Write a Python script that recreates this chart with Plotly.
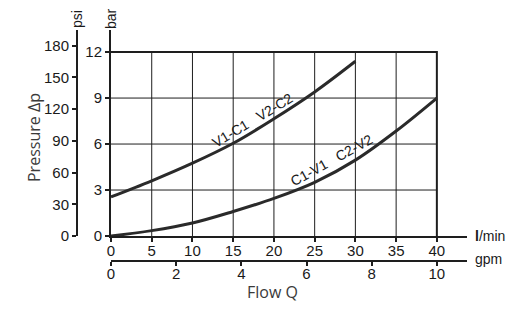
import plotly.graph_objects as go

# Flow in l/min and pressure drop in bar for the two flow paths
flow_upper = [0, 5, 10, 15, 20, 25, 30]
dp_upper = [2.55, 3.6, 4.75, 6.05, 7.65, 9.4, 11.4]

flow_lower = [0, 5, 10, 15, 20, 25, 30, 35, 40]
dp_lower = [0.0, 0.35, 0.85, 1.6, 2.45, 3.5, 4.95, 6.85, 9.0]

lmin_ticks = [0, 5, 10, 15, 20, 25, 30, 35, 40]
bar_ticks = [0, 3, 6, 9, 12]
psi_ticks = [0, 30, 60, 90, 120, 150, 180]
gpm_ticks = [0, 2, 4, 6, 8, 10]

label_upper = "V1-C1   V2-C2"
label_lower = "C1-V1   C2-V2"

W, H = 530, 322
ML, MR, MT, MB = 10, 10, 10, 10
PW, PH = W - ML - MR, H - MT - MB


def px_x(p):
    return (p - ML) / PW


def px_y(p):
    return (H - MB - p) / PH


X_MAX = 43.7      # l/min shown along the axis line
Y_MAX = 13.44     # bar shown along the axis line
PSI_PER_BAR = 14.5038
GPM_FACTOR = 4.0

TICK_FONT = dict(family="Liberation Sans Narrow, Arial Narrow, Liberation Sans", size=15, color="#1a1a1a")
INK = "#1e1e1e"

fig = go.Figure()

x_max_grid = lmin_ticks[-1]
y_max_grid = bar_ticks[-1]


def grid_trace(xs, ys, width):
    return go.Scatter(x=xs, y=ys, mode="lines", line=dict(color=INK, width=width),
                      showlegend=False, hoverinfo="skip", connectgaps=False)


# thin inner grid
gx, gy = [], []
for v in lmin_ticks[1:-1]:
    gx += [v, v, None]
    gy += [0, y_max_grid, None]
for v in bar_ticks[1:-1]:
    gx += [0, x_max_grid, None]
    gy += [v, v, None]
fig.add_trace(grid_trace(gx, gy, 1))

# heavier top and right frame
fig.add_trace(grid_trace([0, x_max_grid, x_max_grid], [y_max_grid, y_max_grid, 0], 2))

fig.add_trace(go.Scatter(x=flow_upper, y=dp_upper, mode="lines", line=dict(color="#2a2a2a", width=3, shape="spline"),
                         showlegend=False, hoverinfo="skip"))
fig.add_trace(go.Scatter(x=flow_lower, y=dp_lower, mode="lines", line=dict(color="#2a2a2a", width=3, shape="spline"),
                         showlegend=False, hoverinfo="skip"))

axis_common = dict(showgrid=False, zeroline=False, showline=True, linecolor=INK, linewidth=2,
                   ticks="outside", tickcolor=INK, tickwidth=2, ticklen=4, tickfont=TICK_FONT,
                   automargin=False)

fig.update_layout(
    width=W, height=H,
    margin=dict(l=ML, r=MR, t=MT, b=MB, autoexpand=False),
    paper_bgcolor="white", plot_bgcolor="white",
    xaxis=dict(domain=[px_x(111), px_x(467)], range=[0, X_MAX], tickvals=lmin_ticks,
               anchor="y", ticklabelstandoff=-4, **axis_common),
    yaxis=dict(domain=[px_y(236), px_y(30)], range=[0, Y_MAX], tickvals=bar_ticks,
               anchor="x", **axis_common),
    xaxis2=dict(overlaying="x", anchor="free", position=px_y(261), side="bottom",
                range=[0, X_MAX / GPM_FACTOR], tickvals=gpm_ticks, ticklabelstandoff=-5,
                **axis_common),
    yaxis2=dict(overlaying="y", anchor="free", position=px_x(77), side="left",
                range=[0, Y_MAX * PSI_PER_BAR], tickvals=psi_ticks, **axis_common),
)

# invisible trace binding the secondary axes so they are drawn
fig.add_trace(go.Scatter(x=[0], y=[0], xaxis="x2", yaxis="y2", mode="markers",
                         marker=dict(opacity=0), showlegend=False, hoverinfo="skip"))

unit_font = dict(family="Liberation Sans, Arial", size=14, color="#1a1a1a")
title_font = dict(family="Open Sans, Noto Sans", size=16, color="#3a3a3a")
curve_font = dict(family="Liberation Sans Narrow, Arial Narrow, Liberation Sans", size=14, color="#1a1a1a")

annotations = [
    dict(text="psi", x=px_x(77), y=px_y(19), textangle=-90, font=unit_font),
    dict(text="bar", x=px_x(111), y=px_y(19), textangle=-90, font=unit_font),
    dict(text="<b>l</b>/min", x=px_x(473), y=px_y(236), xanchor="left", font=unit_font),
    dict(text="gpm", x=px_x(473), y=px_y(259), xanchor="left", font=unit_font),
    dict(text="Pressure Δp", x=px_x(34), y=px_y(138), textangle=-90, font=title_font),
    dict(text="Flow Q", x=px_x(272), y=px_y(292), font=title_font),
]
for a in annotations:
    a.update(xref="paper", yref="paper", showarrow=False)
    a.setdefault("xanchor", "center")
    a.setdefault("yanchor", "middle")

annotations += [
    dict(text=label_upper, x=17.4, y=7.55, xref="x", yref="y", textangle=-31, showarrow=False, font=curve_font),
    dict(text=label_lower, x=27.1, y=4.95, xref="x", yref="y", textangle=-29, showarrow=False, font=curve_font),
]
fig.update_layout(annotations=annotations)

fig.write_html("out.html")
